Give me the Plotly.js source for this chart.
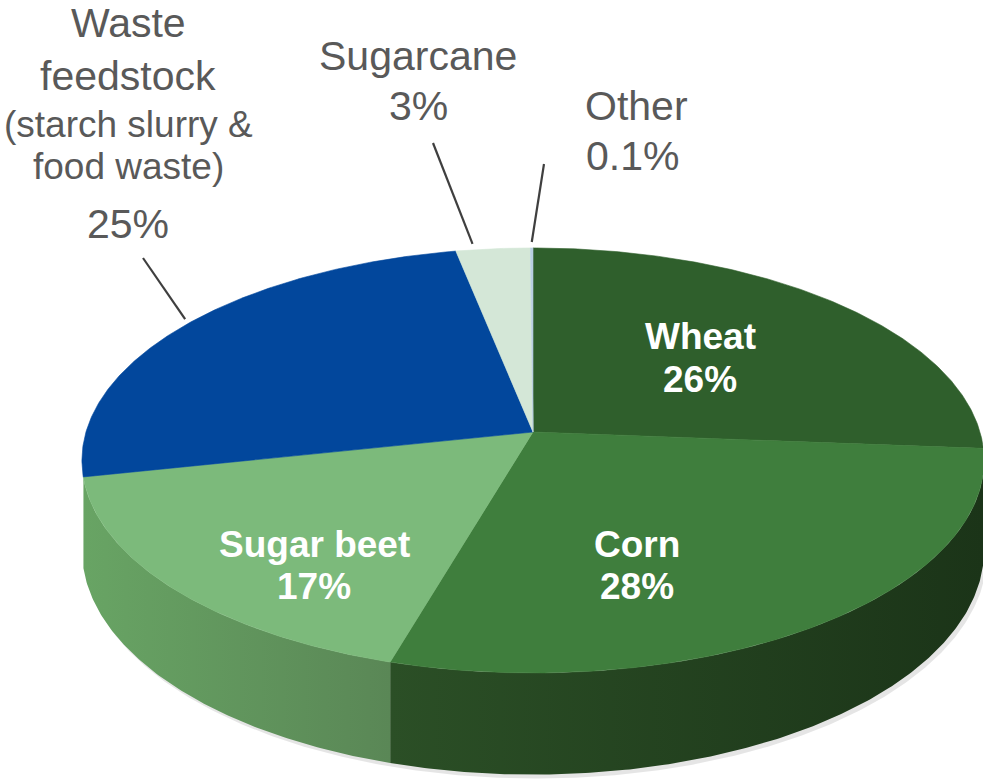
<!DOCTYPE html>
<html>
<head>
<meta charset="utf-8">
<script src="https://cdn.plot.ly/plotly-3.0.1.min.js"></script>
<style>html,body{margin:0;padding:0;background:#fff;}#chart{width:983px;height:779px;}</style>
</head>
<body>
<div id="chart"></div>
<script>
// ---- data ----
const categories = ['Wheat', 'Corn', 'Sugar beet', 'Waste feedstock', 'Sugarcane', 'Other'];
const shares = [26, 28, 17, 25, 3, 0.1];
const nameLines = [['Wheat'], ['Corn'], ['Sugar beet'], ['Waste', 'feedstock', '(starch slurry &', 'food waste)'], ['Sugarcane'], ['Other']];
const pctLabels = ['26%', '28%', '17%', '25%', '3%', '0.1%'];

// ---- styles ----
const topColors = ['#2f5f2c', '#3f7e3d', '#7cba7b', '#02479c', '#d4e7d7', '#b9cfe3'];
const wallColors = [
  ['#1d3a1a', '#1b3418'],
  ['#2b4f26', '#1b3418'],
  ['#68a464', '#5a8756'],
  ['#013c86', '#013a80'],
  ['#b8cfbc', '#b8cfbc'],
  ['#9fb6cc', '#9fb6cc']
];

// ---- projection of the tilted disk ----
const CX = 533, CY = 432, A = 447, B = 208.7, K = 0.134, DEPTH = 88;
function proj(deg, drop) {
  const t = deg * Math.PI / 180;
  const u = Math.sin(t), v = Math.cos(t), d = 1 + K * v;
  return [CX + A * u / d, CY - B * v / d + drop * DEPTH / d];
}
function arc(a, b, drop) {
  const pts = [];
  const n = Math.max(2, Math.ceil(Math.abs(b - a) / 0.5));
  for (let i = 0; i <= n; i++) pts.push(proj(a + (b - a) * i / n, drop));
  return pts;
}
// visible side between the two silhouette points (left end trimmed slightly)
const SIL = Math.acos(-K) * 180 / Math.PI;
const WALL_FROM = SIL, WALL_TO = 360 - SIL - 4.6;

const total = shares.reduce((s, v) => s + v, 0);
const starts = [], ends = [];
let acc = 0;
shares.forEach(v => { starts.push(acc / total * 360); acc += v; ends.push(acc / total * 360); });

const traces = [];

// soft shadow under the disk
(function () {
  const pts = arc(WALL_FROM - 10, WALL_TO + 10, 1).map(p => [p[0] + 3, p[1] + 4]);
  traces.push({
    type: 'scatter', mode: 'lines', x: pts.map(p => p[0]), y: pts.map(p => p[1]),
    fill: 'toself', fillcolor: 'rgba(0,0,0,0.10)', line: {width: 0},
    hoverinfo: 'skip', showlegend: false
  });
})();

// side walls (front half)
shares.forEach((v, i) => {
  const a = Math.max(starts[i], WALL_FROM), b = Math.min(ends[i], WALL_TO);
  if (b <= a) return;
  const top = arc(a, b, 0), bot = arc(a, b, 1).reverse();
  const pts = top.concat(bot);
  pts.push(pts[0]);
  traces.push({
    type: 'scatter', mode: 'lines', x: pts.map(p => p[0]), y: pts.map(p => p[1]),
    fill: 'toself', fillcolor: wallColors[i][0],
    fillgradient: {type: 'horizontal', colorscale: [[0, wallColors[i][0]], [1, wallColors[i][1]]]},
    line: {width: 0},
    hoverinfo: 'skip', showlegend: false, name: categories[i]
  });
});

// top faces
shares.forEach((v, i) => {
  const pts = [[CX, CY]].concat(arc(starts[i], ends[i], 0));
  pts.push([CX, CY]);
  traces.push({
    type: 'scatter', mode: 'lines', x: pts.map(p => p[0]), y: pts.map(p => p[1]),
    fill: 'toself', fillcolor: topColors[i], line: {width: 0.6, color: topColors[i]},
    hoverinfo: 'skip', showlegend: false, name: categories[i]
  });
});

// leader lines for outside labels (from label toward slice middle on the rim)
const outside = [3, 4, 5];
const leaderStart = {3: [143, 258], 4: [433, 143], 5: [544, 164]};
outside.forEach(i => {
  const mid = (starts[i] + ends[i]) / 2;
  const e = proj(i === 4 ? mid - 3 : mid, 0);
  const s = leaderStart[i];
  traces.push({
    type: 'scatter', mode: 'lines', x: [s[0], e[0]], y: [s[1], e[1] - 6],
    line: {width: 2.2, color: '#3f3f3f'}, hoverinfo: 'skip', showlegend: false
  });
});

// ---- annotations ----
const ann = [];
const FONT = 'Liberation Sans, Arial, sans-serif';
function addText(txt, x, y, size, color, bold) {
  ann.push({
    text: bold ? '<b>' + txt + '</b>' : txt, x: x, y: y, xref: 'x', yref: 'y',
    showarrow: false, xanchor: 'center', yanchor: 'middle',
    font: {family: FONT, size: size, color: color}
  });
}
// inside labels
const insidePos = {0: [700, 336, 379], 1: [637, 544, 586], 2: [314, 544, 586]};
[0, 1, 2].forEach(i => {
  const p = insidePos[i];
  addText(nameLines[i][0], p[0], p[1], 37, '#ffffff', true);
  addText(pctLabels[i], p[0], p[2], 37, '#ffffff', true);
});
// outside labels
const GRAY = '#595959';
addText(nameLines[3][0], 128, 23, 41, GRAY, false);
addText(nameLines[3][1], 128, 76, 41, GRAY, false);
addText(nameLines[3][2], 128, 124, 37, GRAY, false);
addText(nameLines[3][3], 128, 166, 37, GRAY, false);
addText(pctLabels[3], 128, 224, 41, GRAY, false);
addText(nameLines[4][0], 418, 56, 41, GRAY, false);
addText(pctLabels[4], 418, 106, 41, GRAY, false);
addText(nameLines[5][0], 636, 106, 41, GRAY, false);
addText(pctLabels[5], 632, 156, 41, GRAY, false);

const layout = {
  width: 983, height: 779,
  margin: {l: 0, r: 0, t: 0, b: 0},
  paper_bgcolor: '#ffffff', plot_bgcolor: '#ffffff',
  showlegend: false,
  xaxis: {range: [0, 983], visible: false, fixedrange: true},
  yaxis: {range: [779, 0], visible: false, fixedrange: true},
  annotations: ann
};

Plotly.newPlot('chart', traces, layout, {displayModeBar: false, staticPlot: true});
</script>
</body>
</html>
